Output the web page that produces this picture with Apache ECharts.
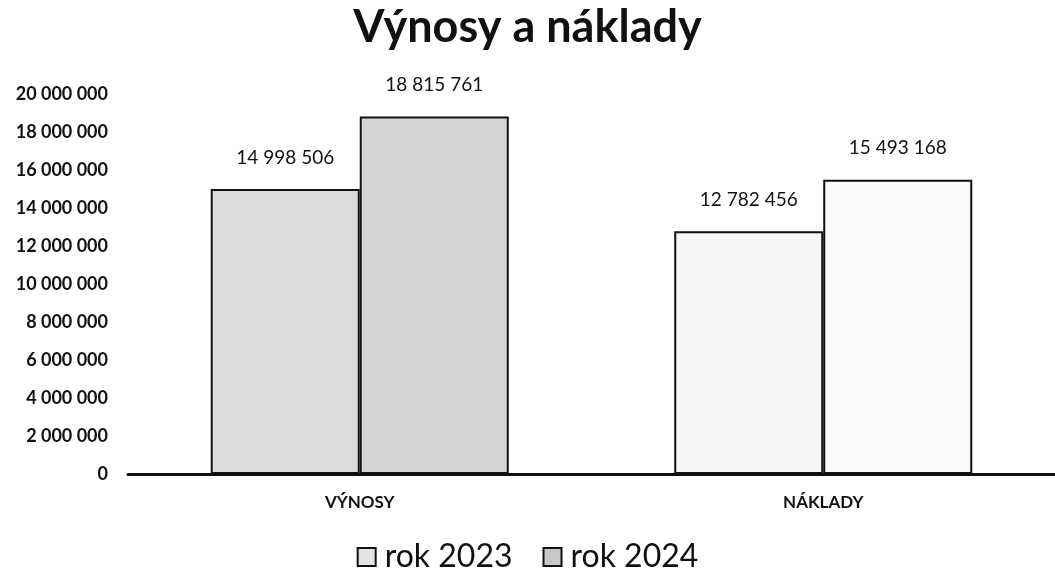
<!DOCTYPE html>
<html>
<head>
<meta charset="utf-8">
<script src="https://cdn.jsdelivr.net/npm/echarts@6/dist/echarts.min.js"></script>
<style>html,body{margin:0;padding:0;background:#fff;}#c{width:1055px;height:580px;}</style>
</head>
<body>
<div id="c"></div>
<script>
var categories = ['VÝNOSY', 'NÁKLADY'];
var seriesNames = ['rok 2023', 'rok 2024'];
var values2023 = [14998506, 12782456];
var values2024 = [18815761, 15493168];
var yMin = 0, yMax = 20000000, yStep = 2000000;

function fmt(v) {
  return String(Math.round(v)).replace(/\B(?=(\d{3})+(?!\d))/g, ' ');
}
var itemColors2023 = ['#dcdcdc', '#f6f6f6'];
var itemColors2024 = ['#d4d4d4', '#fafafa'];

var chart = echarts.init(document.getElementById('c'));
var font = 'Lato, "Open Sans", sans-serif';
function mk(name, vals, cols, legendColor) {
  return {
    name: name,
    type: 'bar',
    barWidth: 149,
    barGap: '0%',
    itemStyle: { color: legendColor, borderColor: '#111', borderWidth: 2 },
    label: {
      show: true, position: 'top', distance: 22,
      formatter: function (p) { return fmt(p.value); },
      fontFamily: font, fontSize: 19, color: '#111'
    },
    data: vals.map(function (v, i) {
      return { value: v, itemStyle: { color: cols[i] } };
    })
  };
}
chart.setOption({
  animation: false,
  backgroundColor: '#fff',
  title: {
    text: 'Výnosy a náklady', left: 'center', top: 0,
    textStyle: { fontFamily: font, fontWeight: 'bold', fontSize: 45, color: '#111' }
  },
  legend: {
    bottom: 2, left: 'center', itemWidth: 18, itemHeight: 18, itemGap: 30,
    icon: 'rect',
    itemStyle: { borderColor: '#111', borderWidth: 2 },
    textStyle: { fontFamily: font, fontSize: 32, color: '#111', padding: [0, 0, 0, 4] },
    data: seriesNames
  },
  grid: { left: 128, right: 0, top: 94, bottom: 106 },
  xAxis: {
    type: 'category', data: categories,
    axisLine: { lineStyle: { color: '#111', width: 3 } },
    axisTick: { show: false },
    axisLabel: { fontFamily: font, fontWeight: 'bold', fontSize: 17, color: '#111', margin: 20 }
  },
  yAxis: {
    type: 'value', min: yMin, max: yMax, interval: yStep,
    axisLine: { show: false }, axisTick: { show: false },
    splitLine: { show: false },
    axisLabel: {
      fontFamily: font, fontWeight: 'bold', fontSize: 18, color: '#111', margin: 20,
      formatter: function (v) { return fmt(v); }
    }
  },
  series: [
    mk(seriesNames[0], values2023, itemColors2023, '#e4e4e4'),
    mk(seriesNames[1], values2024, itemColors2024, '#c8c8c8')
  ]
});
</script>
</body>
</html>
